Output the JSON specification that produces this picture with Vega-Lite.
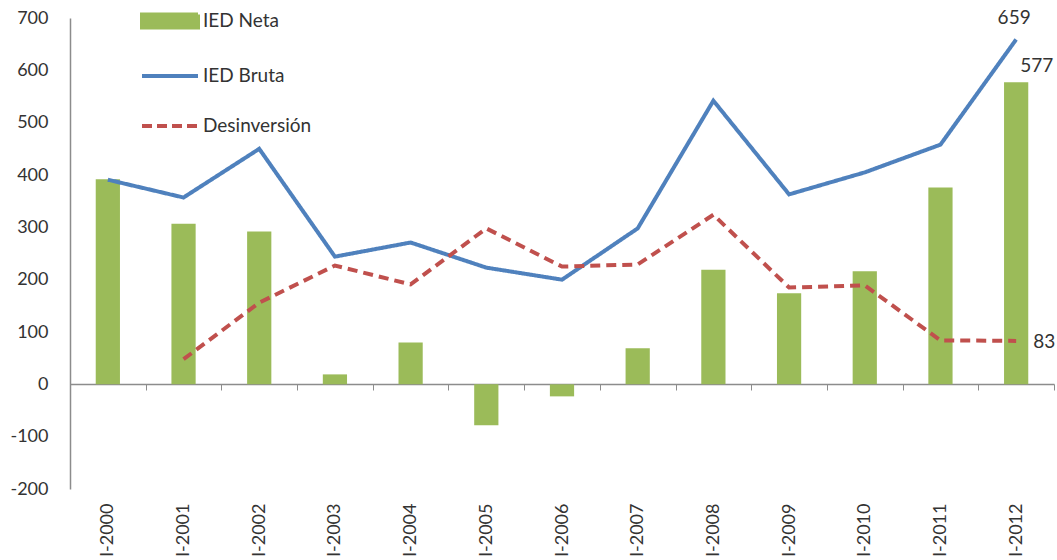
{
  "$schema": "https://vega.github.io/schema/vega-lite/v6.json",
  "autosize": "none",
  "width": 984,
  "height": 471,
  "padding": {"left": 70, "top": 18, "right": 3, "bottom": 71},
  "background": "white",
  "config": {
    "view": {"stroke": null},
    "font": "Lato",
    "axis": {"labelFont": "Lato", "labelFontSize": 18, "labelColor": "#333333", "domainColor": "#8c8c8c", "tickColor": "#8c8c8c", "grid": false, "title": null}
  },
  "data": {
    "values": [
      {"periodo": "I-2000", "serie": "IED Neta", "valor": 392},
      {"periodo": "I-2001", "serie": "IED Neta", "valor": 307},
      {"periodo": "I-2002", "serie": "IED Neta", "valor": 292},
      {"periodo": "I-2003", "serie": "IED Neta", "valor": 19},
      {"periodo": "I-2004", "serie": "IED Neta", "valor": 80},
      {"periodo": "I-2005", "serie": "IED Neta", "valor": -78},
      {"periodo": "I-2006", "serie": "IED Neta", "valor": -23},
      {"periodo": "I-2007", "serie": "IED Neta", "valor": 69},
      {"periodo": "I-2008", "serie": "IED Neta", "valor": 219},
      {"periodo": "I-2009", "serie": "IED Neta", "valor": 174},
      {"periodo": "I-2010", "serie": "IED Neta", "valor": 216},
      {"periodo": "I-2011", "serie": "IED Neta", "valor": 376},
      {"periodo": "I-2012", "serie": "IED Neta", "valor": 577},
      {"periodo": "I-2000", "serie": "IED Bruta", "valor": 391},
      {"periodo": "I-2001", "serie": "IED Bruta", "valor": 357},
      {"periodo": "I-2002", "serie": "IED Bruta", "valor": 450},
      {"periodo": "I-2003", "serie": "IED Bruta", "valor": 244},
      {"periodo": "I-2004", "serie": "IED Bruta", "valor": 271},
      {"periodo": "I-2005", "serie": "IED Bruta", "valor": 223},
      {"periodo": "I-2006", "serie": "IED Bruta", "valor": 200},
      {"periodo": "I-2007", "serie": "IED Bruta", "valor": 298},
      {"periodo": "I-2008", "serie": "IED Bruta", "valor": 542},
      {"periodo": "I-2009", "serie": "IED Bruta", "valor": 363},
      {"periodo": "I-2010", "serie": "IED Bruta", "valor": 405},
      {"periodo": "I-2011", "serie": "IED Bruta", "valor": 458},
      {"periodo": "I-2012", "serie": "IED Bruta", "valor": 659},
      {"periodo": "I-2001", "serie": "Desinversión", "valor": 48},
      {"periodo": "I-2002", "serie": "Desinversión", "valor": 156},
      {"periodo": "I-2003", "serie": "Desinversión", "valor": 227},
      {"periodo": "I-2004", "serie": "Desinversión", "valor": 191},
      {"periodo": "I-2005", "serie": "Desinversión", "valor": 298},
      {"periodo": "I-2006", "serie": "Desinversión", "valor": 225},
      {"periodo": "I-2007", "serie": "Desinversión", "valor": 229},
      {"periodo": "I-2008", "serie": "Desinversión", "valor": 324},
      {"periodo": "I-2009", "serie": "Desinversión", "valor": 185},
      {"periodo": "I-2010", "serie": "Desinversión", "valor": 189},
      {"periodo": "I-2011", "serie": "Desinversión", "valor": 84},
      {"periodo": "I-2012", "serie": "Desinversión", "valor": 83}
    ]
  },
  "encoding": {
    "x": {
      "field": "periodo", "type": "nominal", "sort": null,
      "scale": {"paddingInner": 0, "paddingOuter": 0},
      "axis": {"orient": "bottom", "offset": -105, "labelAngle": -90, "labelPadding": 113, "tickSize": 6, "tickBand": "extent", "domainWidth": 1.5}
    },
    "y": {
      "field": "valor", "type": "quantitative",
      "scale": {"domain": [-200, 700], "nice": false, "zero": false},
      "axis": {"values": [-200, -100, 0, 100, 200, 300, 400, 500, 600, 700], "labelExpr": "replace(datum.label, '−', '-')", "ticks": false, "labelPadding": 22, "domainWidth": 1.5}
    }
  },
  "layer": [
    {
      "transform": [{"filter": "datum.serie === 'IED Neta'"}],
      "mark": {"type": "bar", "width": {"band": 0.32}},
      "encoding": {
        "color": {
          "field": "serie", "type": "nominal",
          "scale": {"domain": ["IED Neta", "IED Bruta", "Desinversión"], "range": ["#9BBB59", "#4F81BD", "#C0504D"]},
          "legend": {
            "title": null, "orient": "none", "legendX": 70, "legendY": -27,
            "direction": "vertical", "symbolType": "stroke", "symbolSize": 3136,
            "labelFont": "Lato", "labelFontSize": 19, "labelColor": "#333333", "labelOffset": 3,
            "rowPadding": 10, "labelLimit": 300,
            "encode": {
              "symbols": {
                "update": {
                  "shape": {"signal": "datum.value === 'IED Neta' ? 'M-1,-0.23H1V0.23H-1Z' : 'stroke'"},
                  "fill": {"signal": "datum.value === 'IED Neta' ? '#9BBB59' : 'transparent'"},
                  "stroke": {"signal": "datum.value === 'IED Neta' ? 'transparent' : (datum.value === 'IED Bruta' ? '#4F81BD' : '#C0504D')"},
                  "strokeWidth": {"value": 4},
                  "strokeDash": {"signal": "datum.value === 'Desinversión' ? [10, 5] : [1, 0]"},
                  "opacity": {"value": 1},
                  "fillOpacity": {"value": 1},
                  "strokeOpacity": {"value": 1}
                }
              }
            }
          }
        }
      }
    },
    {
      "transform": [{"filter": "datum.serie !== 'IED Neta'"}],
      "mark": {"type": "line", "strokeWidth": 4, "strokeJoin": "miter"},
      "encoding": {
        "color": {"field": "serie", "type": "nominal"},
        "strokeDash": {
          "field": "serie", "type": "nominal",
          "scale": {"domain": ["IED Bruta", "Desinversión"], "range": [[1, 0], [10, 6]]},
          "legend": null
        }
      }
    },
    {
      "transform": [{"filter": "datum.periodo === 'I-2012' && datum.serie === 'IED Bruta'"}],
      "mark": {"type": "text", "font": "Lato", "fontSize": 19, "color": "#333333", "align": "center", "baseline": "middle", "dy": -21, "dx": -2},
      "encoding": {"text": {"field": "valor", "type": "quantitative"}}
    },
    {
      "transform": [{"filter": "datum.periodo === 'I-2012' && datum.serie === 'IED Neta'"}],
      "mark": {"type": "text", "font": "Lato", "fontSize": 19, "color": "#333333", "align": "left", "baseline": "middle", "dy": -16, "dx": 4},
      "encoding": {"text": {"field": "valor", "type": "quantitative"}}
    },
    {
      "transform": [{"filter": "datum.periodo === 'I-2012' && datum.serie === 'Desinversión'"}],
      "mark": {"type": "text", "font": "Lato", "fontSize": 19, "color": "#333333", "align": "left", "baseline": "middle", "dx": 17, "dy": 1},
      "encoding": {"text": {"field": "valor", "type": "quantitative"}}
    }
  ]
}
